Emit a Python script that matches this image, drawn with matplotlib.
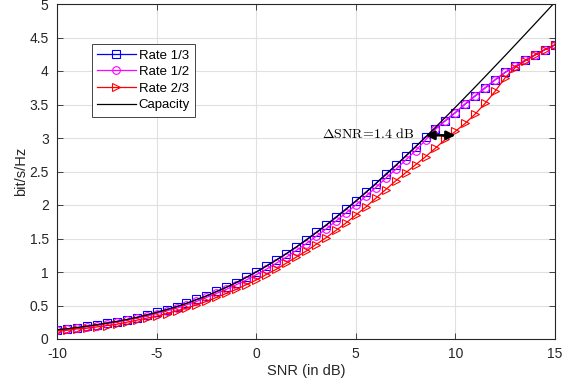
import numpy as np
import matplotlib
matplotlib.use("Agg")
import matplotlib.pyplot as plt

snr_db = np.arange(-10, 15.01, 0.5)

capacity = [0.138, 0.153, 0.171, 0.191, 0.213, 0.236, 0.263, 0.291, 0.323, 0.358,
            0.396, 0.438, 0.483, 0.533, 0.586, 0.644, 0.706, 0.772, 0.843, 0.919, 1.000,
            1.085, 1.176, 1.271, 1.370, 1.474, 1.583, 1.695, 1.812, 1.933, 2.057,
            2.185, 2.317, 2.451, 2.588, 2.728, 2.870, 3.014, 3.161, 3.309, 3.459,
            3.611, 3.764, 3.919, 4.075, 4.231, 4.389, 4.548, 4.707, 4.867, 5.028]

rate_13 = [0.14, 0.15, 0.17, 0.19, 0.21, 0.24, 0.26, 0.29, 0.32, 0.36,
           0.40, 0.44, 0.48, 0.53, 0.59, 0.64, 0.71, 0.77, 0.84, 0.92, 1.00,
           1.09, 1.18, 1.27, 1.37, 1.48, 1.59, 1.70, 1.82, 1.94, 2.06,
           2.19, 2.32, 2.46, 2.59, 2.73, 2.87, 3.01, 3.14, 3.26, 3.38,
           3.51, 3.63, 3.75, 3.87, 3.98, 4.07, 4.16, 4.24, 4.32, 4.39]

rate_12 = [0.13, 0.15, 0.16, 0.18, 0.20, 0.23, 0.25, 0.28, 0.31, 0.34,
           0.38, 0.42, 0.46, 0.51, 0.56, 0.62, 0.68, 0.74, 0.81, 0.88, 0.96,
           1.04, 1.13, 1.22, 1.32, 1.42, 1.53, 1.64, 1.76, 1.88, 2.00,
           2.13, 2.26, 2.40, 2.53, 2.67, 2.81, 2.97, 3.13, 3.26, 3.38,
           3.51, 3.63, 3.75, 3.87, 3.98, 4.07, 4.16, 4.24, 4.32, 4.39]

rate_23 = [0.12, 0.13, 0.15, 0.16, 0.18, 0.20, 0.22, 0.25, 0.28, 0.31,
           0.34, 0.38, 0.42, 0.46, 0.51, 0.56, 0.62, 0.68, 0.74, 0.81, 0.88,
           0.96, 1.04, 1.13, 1.22, 1.31, 1.41, 1.51, 1.62, 1.73, 1.85,
           1.97, 2.10, 2.23, 2.36, 2.48, 2.60, 2.72, 2.85, 2.98, 3.10,
           3.22, 3.36, 3.52, 3.70, 3.90, 4.05, 4.15, 4.24, 4.32, 4.39]

x_ticks = [-10, -5, 0, 5, 10, 15]
y_ticks = [0, 0.5, 1, 1.5, 2, 2.5, 3, 3.5, 4, 4.5, 5]
y_tick_labels = ["0", "0.5", "1", "1.5", "2", "2.5", "3", "3.5", "4", "4.5", "5"]

plt.rcParams['font.family'] = ['Liberation Sans', 'DejaVu Sans']
plt.rcParams['mathtext.fontset'] = 'cm'

fig = plt.figure(figsize=(5.75, 3.85), dpi=100)
ax = fig.add_axes([57/575, (385-339)/385, 498/575, 335/385])

axc = (0.15, 0.15, 0.15)
ms = 5.1
mew = 0.8
ax.plot(snr_db, rate_13, color='blue', marker='s', mfc='none', ms=ms, mew=mew, lw=0.9, label='Rate 1/3')
ax.plot(snr_db, rate_12, color='magenta', marker='o', mfc='none', ms=ms+0.4, mew=mew, lw=0.9, label='Rate 1/2')
ax.plot(snr_db, rate_23, color='red', marker='>', mfc='none', ms=ms+0.8, mew=mew, lw=0.9, label='Rate 2/3')
ax.plot(snr_db, capacity, color='black', lw=0.9, label='Capacity')

ax.set_xlim(-10, 15)
ax.set_ylim(0, 5)
ax.set_xticks(x_ticks)
ax.set_xticklabels([str(v) for v in x_ticks])
ax.set_yticks(y_ticks)
ax.set_yticklabels(y_tick_labels)
ax.grid(True, color=(0.88, 0.88, 0.88), lw=0.8)
ax.set_axisbelow(True)
ax.tick_params(direction='in', top=True, right=True, length=4, width=0.6,
               colors=axc, labelsize=10)
ax.tick_params(axis='x', pad=6)
ax.tick_params(axis='y', pad=6)
for s in ax.spines.values():
    s.set_color(axc)
    s.set_linewidth(0.8)

ax.set_xlabel('SNR (in dB)', fontsize=10.5, color=axc, labelpad=2)
ax.set_ylabel('bit/s/Hz', fontsize=10.5, color=axc, labelpad=1)

leg = ax.legend(loc='upper left', bbox_to_anchor=(92/575, 1 - 44/385), bbox_transform=fig.transFigure,
                fontsize=9.5, frameon=True, fancybox=False, edgecolor=axc, framealpha=1,
                handlelength=2.9, handletextpad=0.25, borderpad=0.4, labelspacing=0.33,
                borderaxespad=0)
leg.get_frame().set_linewidth(0.6)

ax.annotate('', xy=(8.5, 3.04), xytext=(10.0, 3.04),
            arrowprops=dict(arrowstyle='<|-|>', color='black', lw=1.8,
                            mutation_scale=13, shrinkA=0, shrinkB=0))
ax.text(3.3, 3.06, r'$\Delta\mathrm{SNR}\!=\!1.4\ \mathrm{dB}$', fontsize=10,
        ha='left', va='center', color='black')

fig.savefig('out.png', dpi=100)
